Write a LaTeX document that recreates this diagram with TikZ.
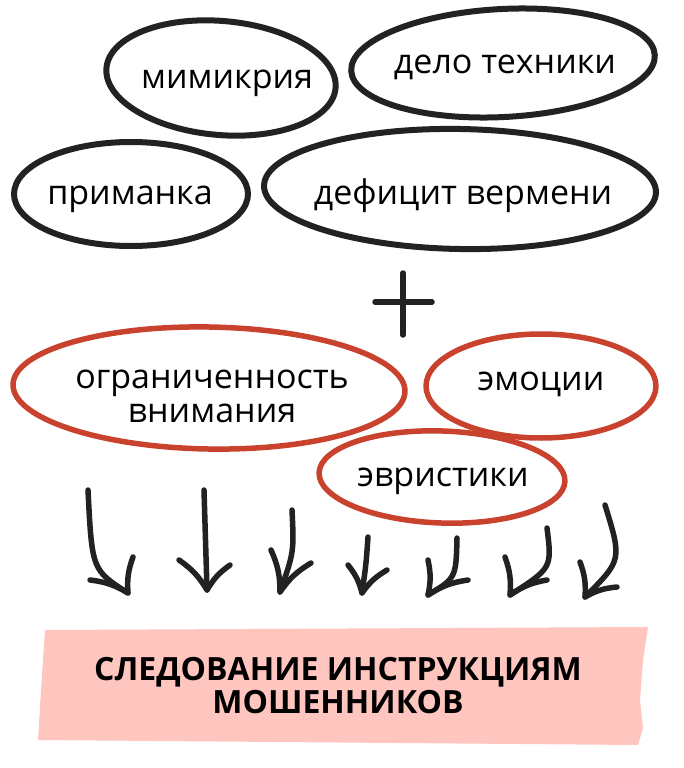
\documentclass[tikz,border=0pt]{standalone}
\usepackage{fontspec}
\setmainfont{Open Sans}
\definecolor{ink}{RGB}{34, 34, 34}
\definecolor{red1}{RGB}{200, 66, 46}
\definecolor{pink1}{RGB}{255, 197, 191}

\begin{document}
\begin{tikzpicture}[x=1pt, y=-1pt, line cap=round, line join=round,
  word/.style={inner sep=0pt, align=center, yshift=-5pt, font=\fontsize{34}{34}\selectfont, text=black},
  ring/.style={draw=ink, line width=6pt},
  redring/.style={draw=red1, line width=5.5pt},
  stroke/.style={draw=ink, line width=5.5pt}]
  \useasboundingbox (0,0) rectangle (683,768);

  % the first group
  \node[word] (mimicry) at (227,78) {мимикрия};
  \node[word] (technique) at (505,62) {дело техники};
  \node[word] (bait) at (130,194) {приманка};
  \node[word] (deficit) at (463,191) {дефицит вермени};
  \draw[ring, rotate around={-5:(221,78)}] (221,78) ellipse [x radius=115, y radius=57];
  \draw[ring, rotate around={3:(503,63)}] (503,63) ellipse [x radius=152, y radius=54];
  \draw[ring] (131,194) ellipse [x radius=117, y radius=52];
  \draw[ring, rotate around={-1:(460,189)}] (460,189) ellipse [x radius=196, y radius=60];

  \draw[stroke] (375,302) -- (432,302);
  \draw[stroke] (403,273) -- (403,335);

  % the second group
  \node[word] (attention) at (212,391) {ограниченность\\внимания};
  \node[word] (emotions) at (541,379) {эмоции};
  \node[word] (heuristics) at (443,476) {эвристики};
  \draw[redring, rotate around={-1:(209,388)}] (209,388) ellipse [x radius=196, y radius=61];
  \draw[redring] (541,386) ellipse [x radius=115, y radius=52];
  \draw[redring, rotate around={-2:(442,477)}] (442,477) ellipse [x radius=123, y radius=46];

  \foreach \i/\s/\c/\t/\l/\r in {
      1/{88,490}/{92,570}/{128,593}/{90,580}/{133,557},
      2/{204,490}/{205,540}/{207,590}/{179,560}/{230,565},
      3/{292,510}/{294,552}/{280,592}/{271,550}/{311,563},
      4/{368,537}/{366,565}/{362,593}/{348,565}/{387,570},
      5/{457,538}/{456,578}/{428,595}/{428,560}/{468,580},
      6/{547,528}/{552,568}/{510,595}/{505,557}/{547,580},
      7/{605,505}/{622,560}/{585,597}/{580,562}/{617,587}}
  {
    \coordinate (s\i) at (\s);
    \coordinate (t\i) at (\t);
    \draw[stroke] (s\i) .. controls (\c) .. (t\i);
    \draw[stroke] (\l) to[bend left=12] (t\i) to[bend left=12] (\r);
  }

  \fill[pink1] (45,630) -- (648,627) -- (643,660) -- (640,700) -- (643,728)
    -- (638,745) -- (38,740) -- (41,690) -- cycle;
  \node[align=center, font=\fontsize{32}{33}\selectfont\bfseries] (result) at (338,686)
    {СЛЕДОВАНИЕ ИНСТРУКЦИЯМ\\МОШЕННИКОВ};
\end{tikzpicture}
\end{document}
